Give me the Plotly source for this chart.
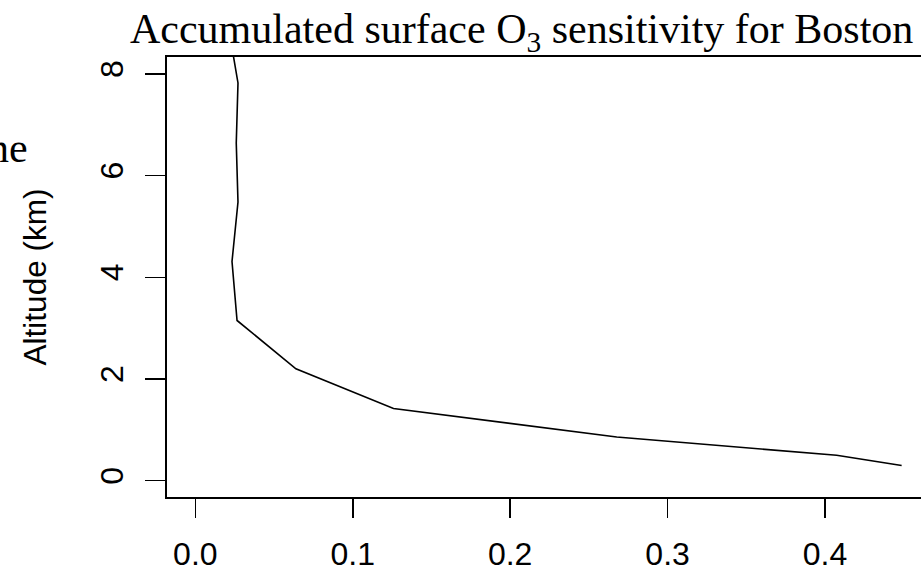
import plotly.graph_objects as go

# Data (sensitivity vs altitude)
sensitivity = [0.4487, 0.4074, 0.2677, 0.1259, 0.0639, 0.0265, 0.0233, 0.0271, 0.0260, 0.0271, 0.0206]
altitude_km = [0.30, 0.50, 0.86, 1.42, 2.20, 3.15, 4.31, 5.48, 6.64, 7.82, 9.00]

x_ticks = [0.0, 0.1, 0.2, 0.3, 0.4]
x_tick_labels = ["0.0", "0.1", "0.2", "0.3", "0.4"]
y_ticks = [0, 2, 4, 6, 8]
y_tick_labels = ["0", "2", "4", "6", "8"]

W, H = 921, 567
L, R, T, B = 167, 0, 57, 70
PW, PH = W - L - R, H - T - B

fig = go.Figure()
fig.add_trace(go.Scatter(
    x=sensitivity, y=altitude_km, mode="lines",
    line=dict(color="black", width=1.6), showlegend=False, hoverinfo="skip",
))

axis_font = dict(family="Liberation Sans, Arial, sans-serif", size=32, color="black")

fig.update_layout(
    width=W, height=H,
    margin=dict(l=L, r=R, t=T, b=B, pad=0, autoexpand=False),
    paper_bgcolor="white", plot_bgcolor="white",
    xaxis=dict(
        range=[-0.018, 0.461], tickvals=x_ticks, ticktext=x_tick_labels,
        showgrid=False, zeroline=False, automargin=False,
        showline=True, linecolor="black", linewidth=2, mirror=True,
        ticks="outside", ticklen=19, tickwidth=1.5, tickcolor="black",
        tickfont=axis_font, ticklabelstandoff=9,
    ),
    yaxis=dict(
        range=[-0.32, 8.33], tickvals=y_ticks, ticktext=y_tick_labels,
        showgrid=False, zeroline=False, automargin=False,
        showline=True, linecolor="black", linewidth=2, mirror=False,
        ticks="outside", ticklen=20, tickwidth=1.5, tickcolor="black",
        tickfont=axis_font, tickangle=-90, ticklabelstandoff=9,
        title=dict(text="Altitude (km)", font=dict(family="Liberation Sans, Arial, sans-serif", size=31.5, color="black"), standoff=38),
    ),
    annotations=[
        dict(
            text="Accumulated surface O<sub>3</sub> sensitivity for Boston",
            xref="paper", yref="paper", x=(521.5 - L) / PW, y=1 + 25 / PH,
            xanchor="center", yanchor="middle", showarrow=False,
            font=dict(family="Liberation Serif, Times New Roman, serif", size=42, color="black"),
        ),
        dict(
            text="ne",
            xref="paper", yref="paper", x=-(L - 30) / PW, y=1 - (148 - T) / PH,
            xanchor="right", yanchor="middle", showarrow=False,
            font=dict(family="Liberation Serif, Times New Roman, serif", size=42, color="black"),
        ),
    ],
)

fig.write_html(
    "out.html",
    config={"displayModeBar": False, "staticPlot": True},
    post_script="document.body.style.margin='0';document.body.style.overflow='hidden';",
)
